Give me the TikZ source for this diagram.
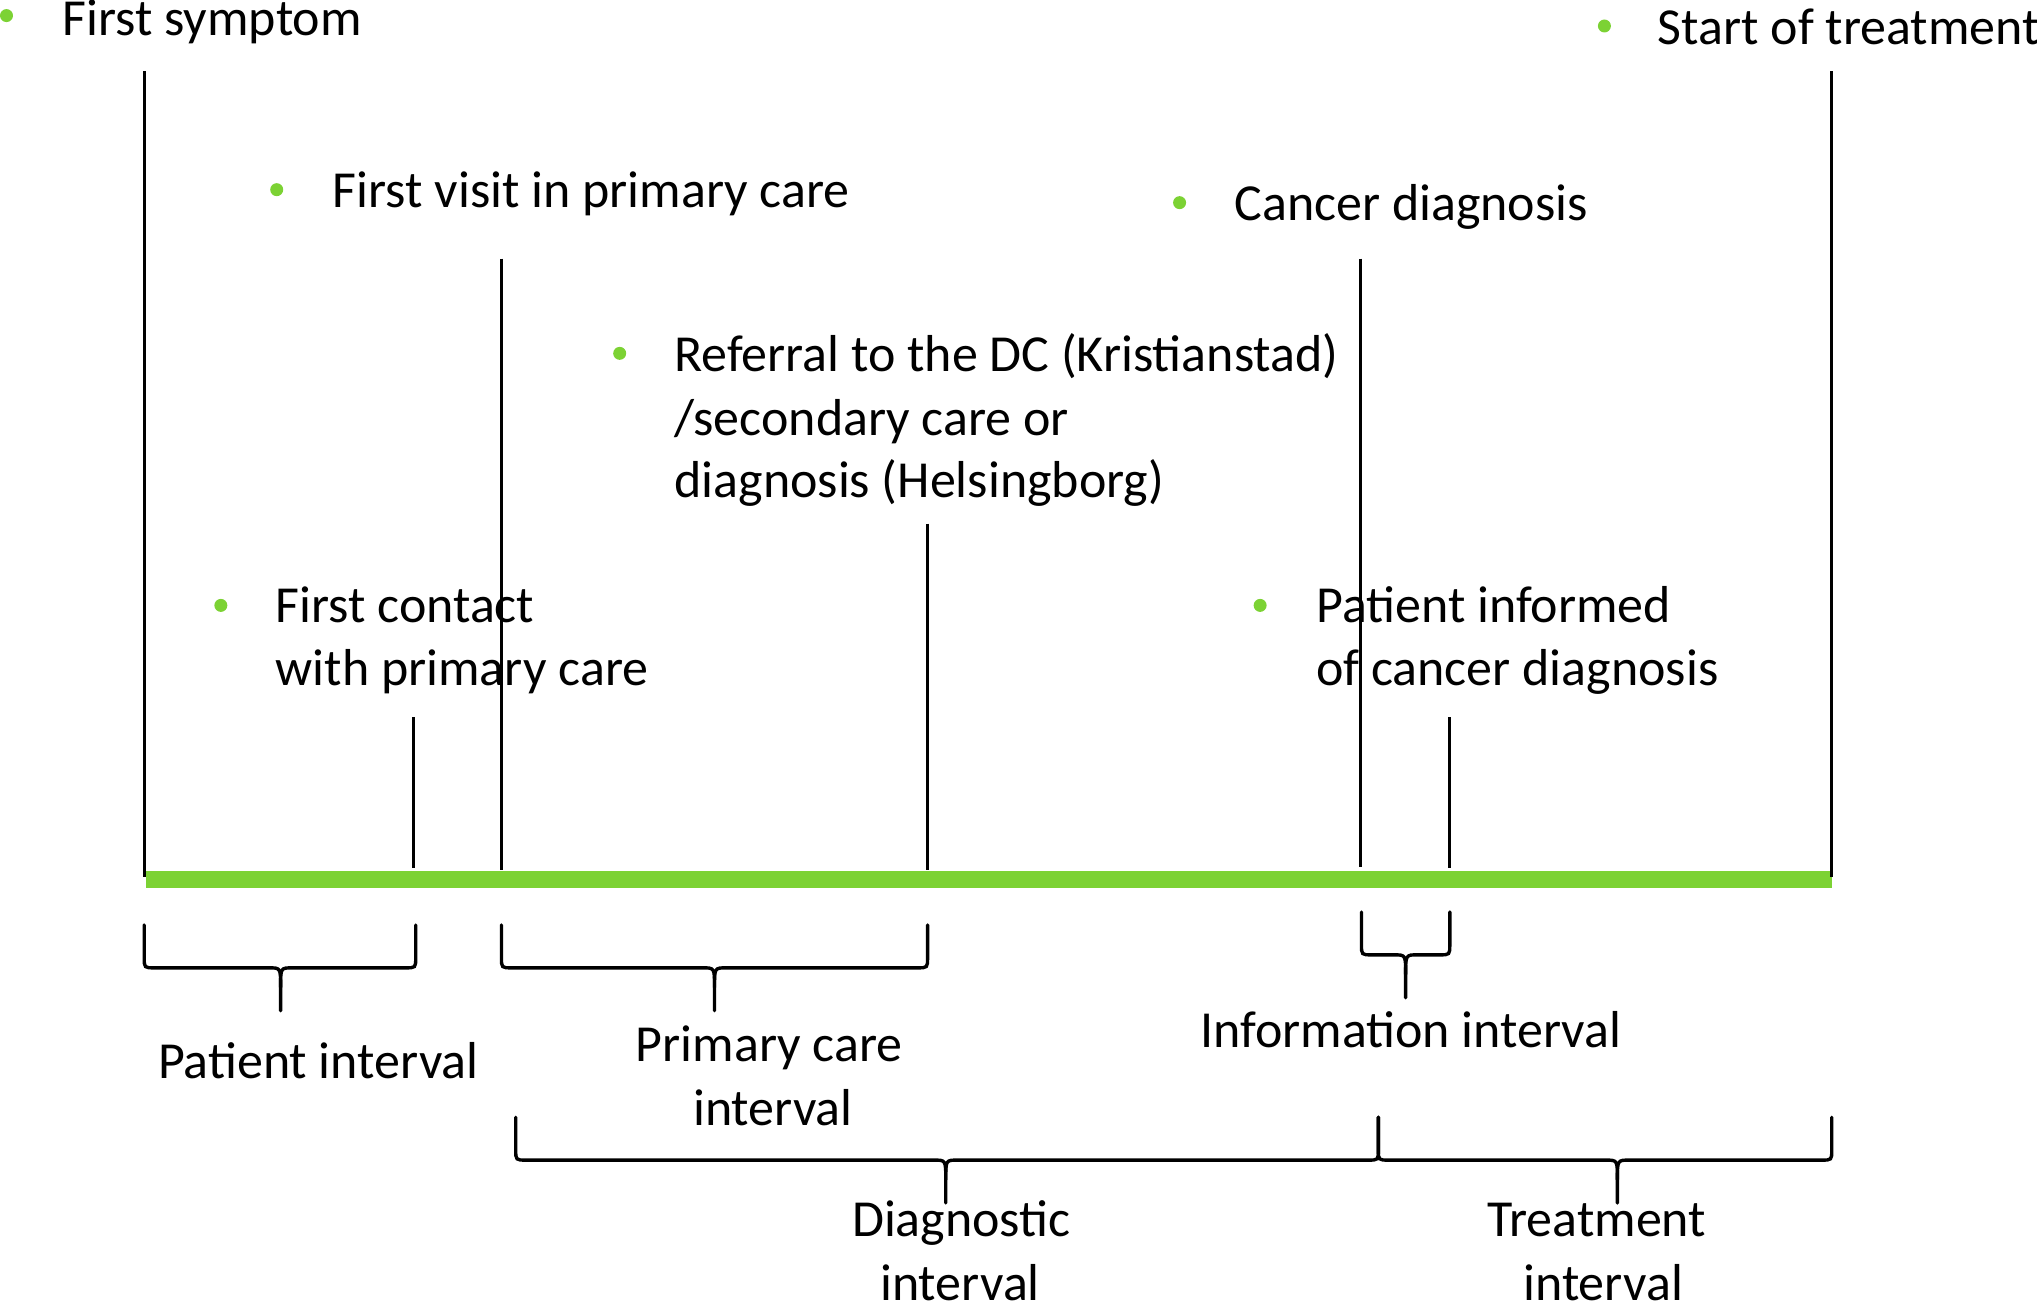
\documentclass[tikz,border=0pt]{standalone}
\usepackage{fontspec}
\setmainfont{Carlito}
\definecolor{lgreen}{RGB}{124,210,52}
\newcommand{\ppbrace}[6]{% x1 x2 xm top line tip
  \draw[bracestyle] (#1,#4) -- (#1,#5-8) .. controls (#1,#5) .. (#1+8,#5) -- (#3-9,#5) .. controls (#3,#5) .. (#3,#5+15) -- (#3,#6);
  \draw[bracestyle] (#2,#4) -- (#2,#5-8) .. controls (#2,#5) .. (#2-8,#5) -- (#3+9,#5) .. controls (#3,#5) .. (#3,#5+15);
}
\begin{document}
\begin{tikzpicture}[x=1pt,y=-1pt,
  lbl/.style={font=\fontsize{40}{49}\selectfont, inner sep=0pt, anchor=base west},
  clbl/.style={font=\fontsize{40}{49}\selectfont, inner sep=0pt, anchor=base},
  bulletdot/.style={circle, fill=lgreen, inner sep=0pt, minimum size=10pt},
  tickline/.style={line width=2.2pt, black},
  bracestyle/.style={line width=2.6pt, black, line cap=round}]
\useasboundingbox (0,0) rectangle (1568,1000.7);

% timeline bar
\coordinate (b1) at (112,677);
\coordinate (b2) at (1410,677);
\draw[lgreen, line width=13pt] (b1) -- (b2);

% vertical ticks
\draw[tickline] (111,55) -- (111,675);
\draw[tickline] (386,199) -- (386,670);
\draw[tickline] (318,552) -- (318,668);
\draw[tickline] (714,403) -- (714,670);
\draw[tickline] (1047,199) -- (1047,667);
\draw[tickline] (1116,552) -- (1116,668);
\draw[tickline] (1410,55) -- (1410,675);

% event labels
\node[bulletdot] (d1) at (5,12) {};
\node[lbl] (t1) at (48,27) {First symptom};
\node[bulletdot] (d2) at (1235,20) {};
\node[lbl] (t2) at (1276,34) {Start of treatment};
\node[bulletdot] (d3) at (213,146) {};
\node[lbl] (t3) at (256,160) {First visit in primary care};
\node[bulletdot] (d4) at (908,156) {};
\node[lbl] (t4) at (950,170) {Cancer diagnosis};
\node[bulletdot] (d5) at (477,272) {};
\node[lbl] (t5a) at (519,286) {Referral to the DC (Kristianstad)};
\node[lbl] (t5b) at (519,335) {/secondary care or};
\node[lbl] (t5c) at (519,383) {diagnosis (Helsingborg)};
\node[bulletdot] (d6) at (170,466) {};
\node[lbl] (t6a) at (212,479) {First contact};
\node[lbl] (t6b) at (212,528) {with primary care};
\node[bulletdot] (d7) at (970,466) {};
\node[lbl] (t7a) at (1013,479) {Patient informed};
\node[lbl] (t7b) at (1013,528) {of cancer diagnosis};

% braces
\ppbrace{111}{320}{216}{712}{745}{778}
\ppbrace{386}{714}{550}{712}{745}{778}
\ppbrace{1048}{1116}{1082}{702}{735}{768}
\ppbrace{397}{1061}{728}{860}{893}{926}
\ppbrace{1061}{1410}{1245}{860}{893}{926}

% interval labels
\node[clbl] (p1) at (245,830) {Patient interval};
\node[clbl] (p2a) at (592,817) {Primary care};
\node[clbl] (p2b) at (595,866) {interval};
\node[clbl] (p3) at (1086,806) {Information interval};
\node[clbl] (p4a) at (740,952) {Diagnostic};
\node[clbl] (p4b) at (739,1001) {interval};
\node[clbl] (p5a) at (1229,952) {Treatment};
\node[clbl] (p5b) at (1234,1001) {interval};
\end{tikzpicture}
\end{document}
